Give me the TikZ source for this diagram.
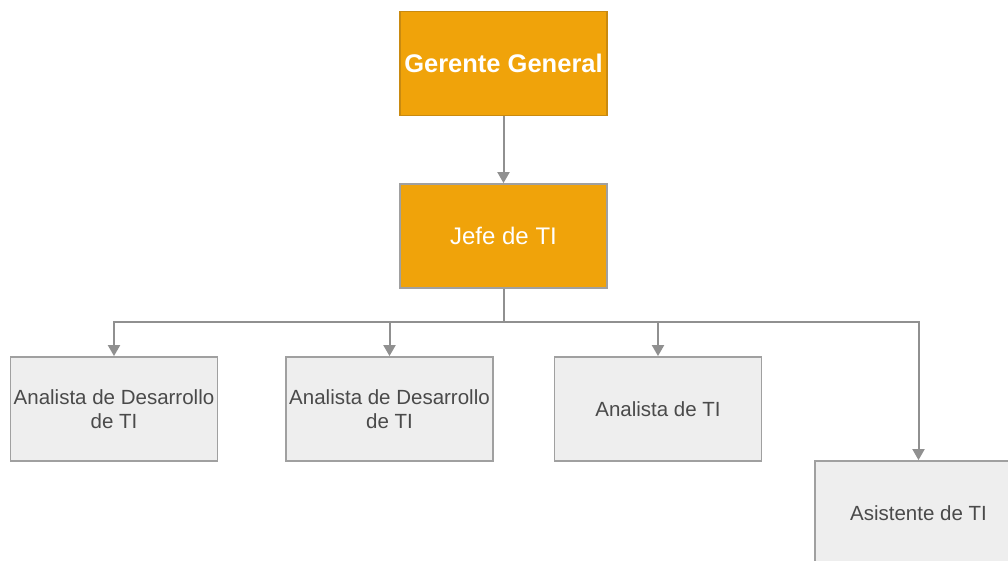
\documentclass[tikz,border=0pt]{standalone}
\usepackage{fontspec}
\setmainfont{Liberation Sans}
\usetikzlibrary{arrows.meta}
\definecolor{boss}{HTML}{F0A30A}
\definecolor{bossline}{HTML}{C98A10}
\definecolor{staff}{HTML}{EEEEEE}
\definecolor{staffline}{HTML}{A0A0A0}
\definecolor{wire}{HTML}{909090}
\definecolor{ink}{HTML}{4A4A4A}
\begin{document}
\begin{tikzpicture}[x=1pt,y=-1pt,
  box/.style={rectangle, minimum width=207pt, minimum height=104pt, inner sep=0pt, align=center, line width=1.8pt},
  head/.style={box, fill=boss, draw=bossline, text=white},
  staffbox/.style={box, fill=staff, draw=staffline, text=ink, font=\fontsize{20.5}{24}\selectfont},
  link/.style={draw=wire, line width=2pt, -{Triangle[width=12pt,length=11pt]}},
  bus/.style={draw=wire, line width=2pt}]
\useasboundingbox (0,0) rectangle (1008,561);
\node[head, draw=bossline, font=\bfseries\fontsize{25.5}{30}\selectfont] (gg) at (503.5,63.5) {Gerente General};
\node[head, draw=staffline, font=\fontsize{24}{28}\selectfont] (jefe) at (503.5,236) {Jefe de TI};
\node[staffbox] (a1) at (114,409) {Analista de Desarrollo\\de TI};
\node[staffbox] (a2) at (389.5,409) {Analista de Desarrollo\\de TI};
\node[staffbox] (a3) at (658,409) {Analista de TI};
\node[staffbox] (as) at (918.5,513) {Asistente de TI};
\coordinate (busy) at (0,322);
\draw[link] (gg) -- (jefe);
\draw[bus] (jefe.south) -- (jefe.south |- busy);
\draw[link] (jefe.south |- busy) -| (a1.north);
\draw[link] (jefe.south |- busy) -| (a2.north);
\draw[link] (jefe.south |- busy) -| (a3.north);
\draw[link] (jefe.south |- busy) -| (as.north);
\end{tikzpicture}
\end{document}
